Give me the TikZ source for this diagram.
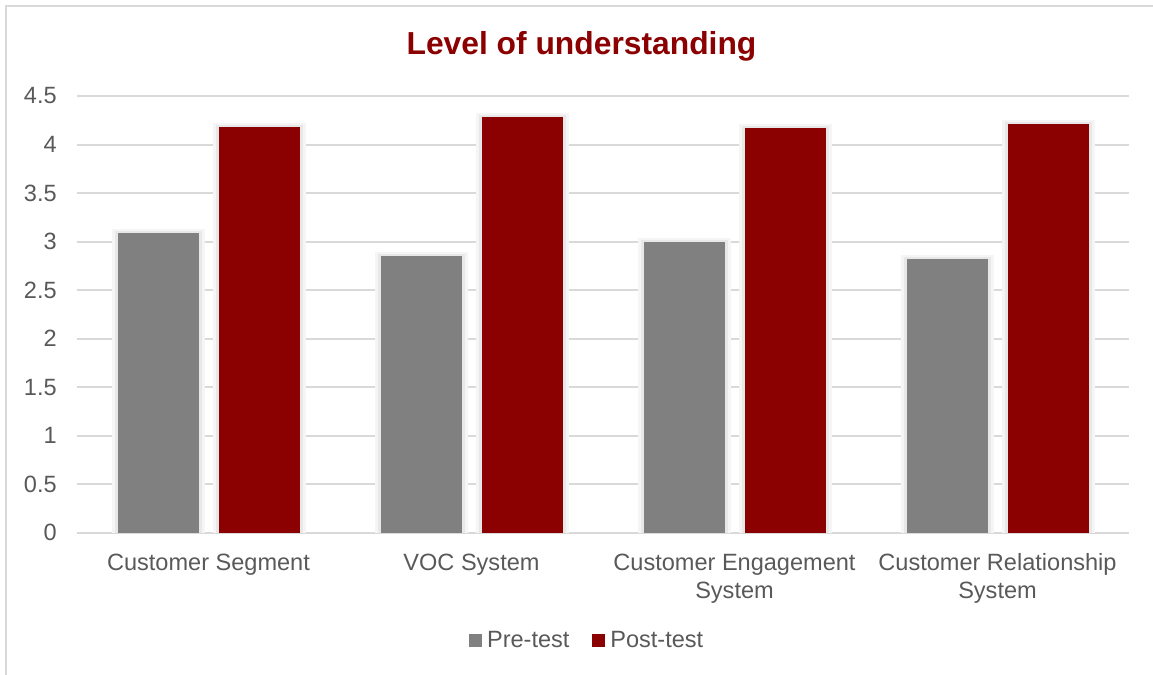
\documentclass[tikz,border=0pt]{standalone}
\usepackage{fontspec}
\setmainfont{Liberation Sans}
\usepackage{xcolor}
\usepackage{tikz,pgffor}
\definecolor{PostRed}{RGB}{139,0,0}
\definecolor{PreGray}{RGB}{128,128,128}
\definecolor{TextGray}{RGB}{89,89,89}
\definecolor{GridGray}{RGB}{217,217,217}
\tikzset{
	MyChart/.style={x=0.02cm,y=0.02cm},
	MyGrid/.style={draw=GridGray,line width=0.04cm},
	MyShadeA/.style={fill=black!4},
	MyShadeB/.style={fill=black!9},
	MyLabel/.style={text=TextGray,inner sep=0pt,
    font=\fontsize{13.4}{15.9}\selectfont},
	MyKey/.style={inner sep=0pt,minimum size=0.254cm}
		}

\begin{document}
\begin{tikzpicture}[MyChart]
	\def\yz{142.3}% height of the value 0
	\def\u{97.04}% length of one unit of the scale
	\useasboundingbox (0,0) rectangle (1153,675);
	\draw[MyGrid] (6,-20) -- (6,669) -- (1180,669);% frame of the chart

	\node[font=\bfseries\fontsize{18.1}{21}\selectfont,text=PostRed,
    anchor=base,inner sep=0pt] (title) at (581.5,620) {Level of understanding};

	\foreach \v [count=\i] in {0,0.5,1,1.5,2,2.5,3,3.5,4,4.5}% grid
		{\draw[MyGrid] (77,{\yz+\v*\u}) -- (1129,{\yz+\v*\u});
		\node[MyLabel,anchor=east] (tick\i) at (57,{\yz+\v*\u}) {\v};
		}

	\foreach \c/\pre/\post/\name [count=\i] in {208.5/3.09/4.18/Customer Segment,
      471.5/2.85/4.28/VOC System,
      734.5/3.00/4.17/{Customer Engagement\\System},
      997.5/2.82/4.21/{Customer Relationship\\System}}% bars
		{\fill[MyShadeA] ({\c-97},\yz) rectangle ({\c-3.5},{\yz+\pre*\u+4});
		\fill[MyShadeA] ({\c+4},\yz) rectangle ({\c+97.5},{\yz+\post*\u+4});
		\fill[MyShadeB] ({\c-94},\yz) rectangle ({\c-6.5},{\yz+\pre*\u+2});
		\fill[MyShadeB] ({\c+7},\yz) rectangle ({\c+94.5},{\yz+\post*\u+2});
		\fill[PreGray] ({\c-91},\yz) rectangle ({\c-9.5},{\yz+\pre*\u});
		\fill[PostRed] ({\c+10},\yz) rectangle ({\c+91.5},{\yz+\post*\u});
		\node[MyLabel,anchor=north,align=center] (cat\i) at (\c,121.5) {\name};
		}

	\node[MyKey,fill=PreGray] (kpre) at (475.3,34.3) {};
	\node[MyLabel,anchor=base west] (lpre) at (486.7,27.7) {Pre-test};
	\node[MyKey,fill=PostRed] (kpost) at (598.6,34.3) {};
	\node[MyLabel,anchor=base west] (lpost) at (610,27.7) {Post-test};
\end{tikzpicture}
\end{document}
